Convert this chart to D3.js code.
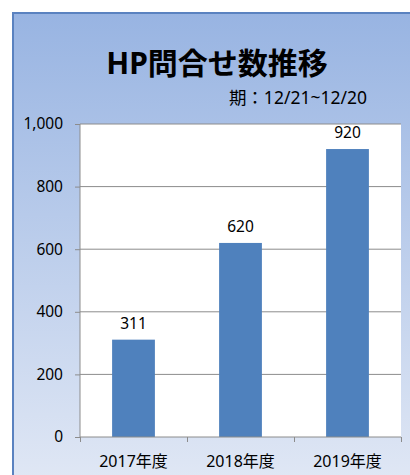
<!DOCTYPE html>
<html>
<head>
<meta charset="utf-8">
<script src="https://cdn.jsdelivr.net/npm/d3@7"></script>
<style>
  body { margin: 0; background: #fff; }
  svg text { font-family: "Noto Sans", "Noto Sans CJK JP", sans-serif; fill: #000; }
</style>
</head>
<body>
<div id="chart"></div>
<script>
var categories = ["2017年度", "2018年度", "2019年度"];
var values = [311, 620, 920];
var yTicks = [0, 200, 400, 600, 800, 1000];
var title = "HP問合せ数推移";
var subtitle = "期：12/21~12/20";

var W = 410, H = 475;
var margin = {top: 124, right: 9, bottom: 38, left: 80},
    width = W - margin.left - margin.right,
    height = H - margin.top - margin.bottom;

var svg = d3.select("#chart").append("svg")
    .attr("width", W)
    .attr("height", H);

var grad = svg.append("defs").append("linearGradient")
    .attr("id", "bg").attr("x1", 0).attr("y1", 0).attr("x2", 0).attr("y2", 1);
grad.append("stop").attr("offset", "0%").attr("stop-color", "#98b4e2");
grad.append("stop").attr("offset", "100%").attr("stop-color", "#e1e8f5");

// chart area background
svg.append("rect")
    .attr("x", 13).attr("y", 13)
    .attr("width", W).attr("height", H)
    .attr("fill", "url(#bg)")
    .attr("stroke", "#5a82c0")
    .attr("stroke-width", 2);

svg.append("text")
    .attr("x", 217).attr("y", 74)
    .attr("text-anchor", "middle")
    .attr("font-size", 30)
    .attr("font-weight", "bold")
    .text(title);

svg.append("text")
    .attr("x", 367).attr("y", 104)
    .attr("text-anchor", "end")
    .attr("font-size", 17.5)
    .text(subtitle);

var g = svg.append("g").attr("transform", "translate(" + margin.left + "," + margin.top + ")");

g.append("rect")
    .attr("width", width).attr("height", height)
    .attr("fill", "#fff");

var x = d3.scaleBand().domain(categories).range([0, width]).paddingInner(0.6).paddingOuter(0.3);
var xb = d3.scaleLinear().domain([0, categories.length]).range([0, width]);
var y = d3.scaleLinear().domain([0, 1000]).range([height, 0]);

// gridlines
g.selectAll(".grid")
    .data(yTicks.slice(1))
    .enter().append("line")
    .attr("x1", 0).attr("x2", width)
    .attr("y1", function(d) { return y(d); })
    .attr("y2", function(d) { return y(d); })
    .attr("stroke", "#8c8c8c")
    .attr("stroke-width", 1);

g.selectAll(".bar")
    .data(values)
    .enter().append("rect")
    .attr("x", function(d, i) { return x(categories[i]); })
    .attr("y", function(d) { return y(d); })
    .attr("width", x.bandwidth())
    .attr("height", function(d) { return height - y(d); })
    .attr("fill", "#4f81bd");

g.selectAll(".val")
    .data(values)
    .enter().append("text")
    .attr("x", function(d, i) { return x(categories[i]) + x.bandwidth() / 2; })
    .attr("y", function(d) { return y(d) - 11; })
    .attr("text-anchor", "middle")
    .attr("font-size", 15.5)
    .text(function(d) { return d; });

// y axis
var yAxis = g.append("g")
    .call(d3.axisLeft(y).tickValues(yTicks).tickSize(5).tickPadding(12).tickFormat(d3.format(",")));
yAxis.selectAll("line").attr("stroke", "#8c8c8c");
yAxis.select(".domain").attr("stroke", "#8c8c8c").attr("d", "M0,0V" + height);
yAxis.selectAll("text").attr("font-size", 15.5).attr("font-family", "Noto Sans, sans-serif");

// x axis
var xAxis = g.append("g")
    .attr("transform", "translate(0," + height + ")")
    .call(d3.axisBottom(xb).tickValues(d3.range(categories.length + 1)).tickSize(5).tickFormat(""));
xAxis.selectAll("line").attr("stroke", "#8c8c8c");
xAxis.select(".domain").attr("stroke", "#8c8c8c").attr("d", "M0,0H" + width);

g.selectAll(".xlab")
    .data(categories)
    .enter().append("text")
    .attr("x", function(d) { return x(d) + x.bandwidth() / 2; })
    .attr("y", height + 30)
    .attr("text-anchor", "middle")
    .attr("font-size", 16)
    .text(function(d) { return d; });
</script>
</body>
</html>
